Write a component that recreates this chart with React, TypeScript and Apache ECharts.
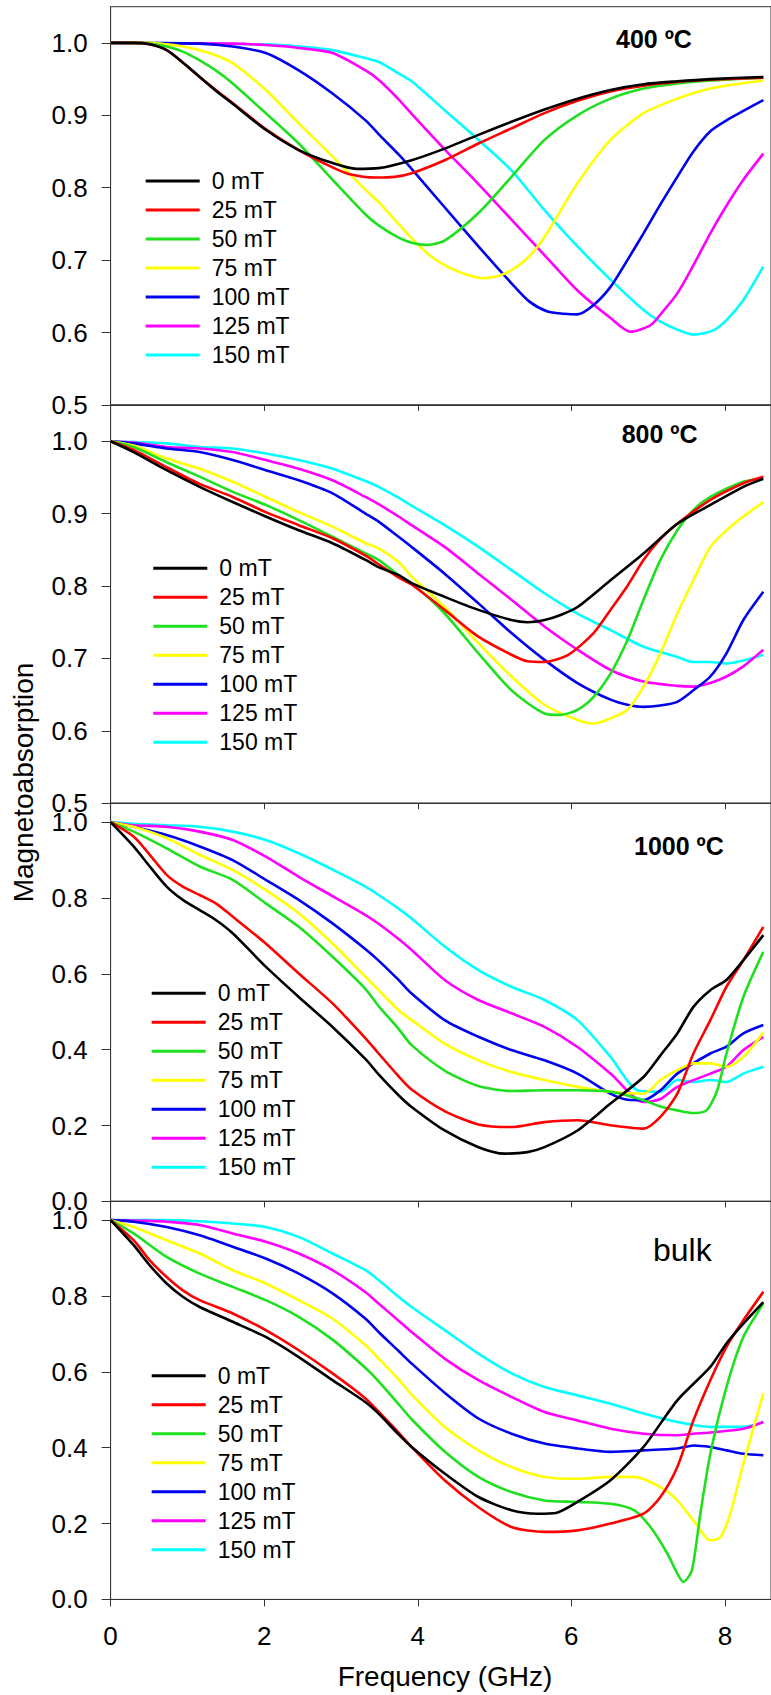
import React, { useEffect, useRef } from 'react';
import * as echarts from 'echarts';

// ---------- data ----------
const FIELDS = ['0 mT', '25 mT', '50 mT', '75 mT', '100 mT', '125 mT', '150 mT'];
const COLORS = ['#000000', '#ff0000', '#1fe01f', '#ffff00', '#0000f0', '#ff00ff', '#00ffff'];
const PANEL_TITLES = ['400 \u00BAC', '800 \u00BAC', '1000 \u00BAC', 'bulk'];
const X_TICKS = [0, 2, 4, 6, 8];
const Y_TICKS_HIGH = [0.5, 0.6, 0.7, 0.8, 0.9, 1.0];
const Y_TICKS_LOW = [0, 0.2, 0.4, 0.6, 0.8, 1.0];

// 400 ºC  [frequency GHz, magnetoabsorption]
const t400_0 = [[0,1],[0.3,1],[0.51,0.998],[0.73,0.99],[0.94,0.973],[1.16,0.953],[1.37,0.934],[1.59,0.916],[2.02,0.88],[2.45,0.852],[2.89,0.834],[3.2,0.826],[3.49,0.827],[3.92,0.838],[4.35,0.854],[4.79,0.873],[5.22,0.891],[5.65,0.908],[6.08,0.923],[6.51,0.935],[6.94,0.943],[7.38,0.947],[7.81,0.95],[8.5,0.953]];
const t400_25 = [[0,1],[0.3,1],[0.51,0.998],[0.73,0.99],[0.94,0.973],[1.16,0.953],[1.37,0.935],[1.59,0.917],[2.02,0.881],[2.45,0.852],[2.89,0.828],[3.1,0.819],[3.45,0.814],[3.7,0.815],[3.92,0.82],[4.35,0.838],[4.79,0.861],[5.22,0.882],[5.65,0.903],[6.08,0.92],[6.51,0.933],[6.94,0.941],[7.38,0.946],[7.81,0.949],[8.5,0.952]];
const t400_50 = [[0,1],[0.3,1],[0.51,0.999],[0.73,0.995],[0.94,0.988],[1.16,0.976],[1.37,0.962],[1.59,0.944],[2.02,0.903],[2.45,0.861],[2.89,0.811],[3.32,0.763],[3.49,0.748],[3.75,0.731],[3.92,0.724],[4.1,0.721],[4.35,0.727],[4.79,0.765],[5.22,0.815],[5.65,0.866],[6.08,0.9],[6.51,0.923],[6.94,0.937],[7.38,0.944],[7.81,0.948],[8.5,0.952]];
const t400_75 = [[0,1],[0.51,1],[0.73,0.998],[0.94,0.995],[1.16,0.99],[1.37,0.983],[1.59,0.972],[2.02,0.935],[2.45,0.889],[2.89,0.843],[3.32,0.797],[3.49,0.78],[3.75,0.75],[3.92,0.73],[4.15,0.707],[4.35,0.693],[4.6,0.681],[4.85,0.675],[5.05,0.678],[5.22,0.686],[5.45,0.705],[5.65,0.732],[6.08,0.806],[6.51,0.866],[6.94,0.903],[7.38,0.923],[7.81,0.937],[8.5,0.948]];
const t400_100 = [[0,1],[1.16,0.999],[1.59,0.995],[2.02,0.986],[2.45,0.962],[2.89,0.93],[3.32,0.893],[3.49,0.874],[3.75,0.846],[3.92,0.826],[4.35,0.773],[4.79,0.719],[5.22,0.668],[5.45,0.643],[5.69,0.629],[5.9,0.626],[6.08,0.625],[6.29,0.638],[6.51,0.663],[6.73,0.7],[6.94,0.737],[7.16,0.777],[7.38,0.815],[7.59,0.85],[7.81,0.878],[8.02,0.893],[8.24,0.906],[8.5,0.921]];
const t400_125 = [[0,1],[1.59,0.999],[2.02,0.997],[2.45,0.993],[2.89,0.986],[3.32,0.962],[3.49,0.949],[3.75,0.922],[3.92,0.902],[4.35,0.853],[4.79,0.805],[5.22,0.756],[5.65,0.707],[6.08,0.658],[6.51,0.62],[6.77,0.601],[7.03,0.61],[7.2,0.63],[7.38,0.654],[7.59,0.693],[7.81,0.737],[8.02,0.775],[8.24,0.811],[8.5,0.847]];
const t400_150 = [[0,1],[2.02,0.998],[2.45,0.995],[2.89,0.99],[3.32,0.979],[3.49,0.974],[3.75,0.958],[3.92,0.947],[4.35,0.907],[4.79,0.866],[5.22,0.824],[5.65,0.769],[6.08,0.719],[6.51,0.673],[6.94,0.631],[7.16,0.615],[7.38,0.604],[7.59,0.597],[7.85,0.603],[8.02,0.617],[8.24,0.645],[8.5,0.691]];

// 800 ºC
const t800_0 = [[0,1],[0.3,0.985],[0.73,0.96],[1.16,0.937],[1.59,0.916],[2.02,0.896],[2.45,0.877],[2.89,0.859],[3.32,0.836],[3.49,0.826],[3.75,0.815],[3.92,0.804],[4.35,0.785],[4.79,0.767],[5.22,0.753],[5.43,0.75],[5.65,0.753],[5.86,0.76],[6.08,0.771],[6.51,0.808],[6.94,0.845],[7.38,0.886],[7.81,0.912],[8.24,0.937],[8.5,0.948]];
const t800_25 = [[0,1],[0.3,0.988],[0.73,0.964],[1.16,0.941],[1.59,0.923],[2.02,0.902],[2.45,0.884],[2.89,0.866],[3.32,0.842],[3.49,0.83],[3.75,0.812],[3.92,0.802],[4.35,0.767],[4.79,0.73],[5.22,0.705],[5.43,0.696],[5.65,0.695],[5.96,0.705],[6.29,0.735],[6.51,0.767],[6.73,0.8],[6.94,0.836],[7.16,0.865],[7.38,0.886],[7.81,0.919],[8.24,0.942],[8.5,0.951]];
const t800_50 = [[0,1],[0.3,0.992],[0.73,0.971],[1.16,0.951],[1.59,0.93],[2.02,0.912],[2.45,0.891],[2.89,0.868],[3.32,0.845],[3.49,0.836],[3.75,0.815],[3.92,0.804],[4.35,0.762],[4.79,0.707],[5.22,0.656],[5.65,0.624],[5.86,0.622],[6.08,0.629],[6.29,0.647],[6.51,0.679],[6.73,0.725],[6.94,0.781],[7.16,0.836],[7.38,0.877],[7.59,0.905],[7.81,0.923],[8.24,0.944],[8.5,0.948]];
const t800_75 = [[0,1],[0.3,0.994],[0.73,0.976],[1.16,0.962],[1.59,0.944],[2.02,0.923],[2.45,0.902],[2.89,0.882],[3.32,0.859],[3.49,0.852],[3.75,0.833],[3.92,0.813],[4.35,0.771],[4.79,0.721],[5.22,0.675],[5.65,0.636],[6.08,0.615],[6.29,0.61],[6.51,0.617],[6.73,0.629],[6.94,0.661],[7.16,0.707],[7.38,0.762],[7.59,0.808],[7.81,0.854],[8.02,0.877],[8.24,0.896],[8.5,0.916]];
const t800_100 = [[0,1],[0.3,0.997],[0.73,0.99],[1.16,0.985],[1.59,0.974],[2.02,0.96],[2.45,0.946],[2.89,0.928],[3.32,0.9],[3.49,0.889],[3.75,0.868],[3.92,0.854],[4.35,0.817],[4.79,0.776],[5.22,0.735],[5.65,0.698],[6.08,0.666],[6.51,0.643],[6.73,0.636],[6.94,0.633],[7.16,0.635],[7.38,0.64],[7.59,0.656],[7.81,0.675],[8.02,0.707],[8.24,0.753],[8.5,0.792]];
const t800_125 = [[0,1],[0.3,0.998],[0.73,0.992],[1.16,0.99],[1.59,0.985],[2.02,0.974],[2.45,0.962],[2.89,0.946],[3.32,0.923],[3.49,0.913],[3.75,0.896],[3.92,0.884],[4.35,0.854],[4.79,0.817],[5.22,0.781],[5.65,0.744],[6.08,0.712],[6.51,0.684],[6.94,0.668],[7.38,0.662],[7.59,0.661],[7.81,0.666],[8.02,0.675],[8.24,0.689],[8.5,0.712]];
const t800_150 = [[0,1],[0.51,0.998],[0.73,0.997],[1.16,0.992],[1.59,0.99],[2.02,0.983],[2.45,0.974],[2.89,0.962],[3.32,0.945],[3.49,0.937],[3.75,0.922],[3.92,0.911],[4.35,0.884],[4.79,0.854],[5.22,0.822],[5.65,0.79],[6.08,0.762],[6.51,0.739],[6.94,0.716],[7.38,0.702],[7.59,0.695],[7.81,0.695],[8.02,0.693],[8.24,0.697],[8.5,0.705]];

// 1000 ºC
const t1000_0 = [[0,1],[0.3,0.936],[0.51,0.883],[0.73,0.83],[0.94,0.795],[1.16,0.768],[1.37,0.742],[1.59,0.707],[2.02,0.619],[2.45,0.539],[2.89,0.46],[3.32,0.375],[3.49,0.335],[3.75,0.28],[3.92,0.249],[4.35,0.187],[4.79,0.143],[5.13,0.126],[5.43,0.13],[5.65,0.143],[6.08,0.187],[6.51,0.258],[6.94,0.328],[7.16,0.385],[7.38,0.443],[7.59,0.513],[7.81,0.557],[8.02,0.584],[8.24,0.636],[8.5,0.702]];
const t1000_25 = [[0,1],[0.3,0.962],[0.51,0.914],[0.73,0.861],[0.94,0.83],[1.16,0.808],[1.37,0.786],[1.59,0.751],[2.02,0.68],[2.45,0.601],[2.89,0.522],[3.32,0.43],[3.49,0.39],[3.75,0.33],[3.92,0.295],[4.35,0.238],[4.79,0.203],[5.22,0.196],[5.65,0.209],[6.08,0.214],[6.51,0.201],[6.94,0.192],[7.16,0.223],[7.38,0.284],[7.59,0.39],[7.81,0.478],[8.02,0.566],[8.24,0.636],[8.5,0.724]];
const t1000_50 = [[0,1],[0.3,0.975],[0.73,0.931],[1.16,0.883],[1.59,0.848],[2.02,0.786],[2.45,0.724],[2.89,0.645],[3.32,0.56],[3.49,0.515],[3.75,0.455],[3.92,0.412],[4.35,0.345],[4.79,0.304],[5.22,0.291],[5.65,0.293],[6.08,0.293],[6.51,0.289],[6.94,0.267],[7.16,0.25],[7.38,0.24],[7.59,0.233],[7.76,0.24],[7.9,0.293],[8.02,0.39],[8.24,0.539],[8.5,0.658]];
const t1000_75 = [[0,1],[0.3,0.988],[0.73,0.958],[1.16,0.914],[1.59,0.874],[2.02,0.821],[2.45,0.76],[2.89,0.68],[3.32,0.592],[3.49,0.557],[3.75,0.504],[3.92,0.478],[4.35,0.416],[4.79,0.372],[5.22,0.341],[5.65,0.32],[6.08,0.302],[6.51,0.289],[6.94,0.284],[7.16,0.32],[7.38,0.346],[7.59,0.364],[7.81,0.364],[8.02,0.355],[8.24,0.381],[8.5,0.445]];
const t1000_100 = [[0,1],[0.3,0.988],[0.73,0.966],[1.16,0.936],[1.59,0.9],[2.02,0.848],[2.45,0.795],[2.89,0.733],[3.32,0.665],[3.49,0.635],[3.75,0.584],[3.92,0.548],[4.35,0.478],[4.79,0.434],[5.22,0.399],[5.65,0.372],[6.08,0.337],[6.51,0.284],[6.73,0.268],[6.94,0.267],[7.16,0.293],[7.38,0.337],[7.81,0.39],[8.02,0.408],[8.24,0.443],[8.5,0.465]];
const t1000_125 = [[0,1],[0.3,0.992],[0.73,0.988],[1.16,0.975],[1.59,0.953],[2.02,0.909],[2.45,0.856],[2.89,0.805],[3.32,0.755],[3.49,0.732],[3.75,0.692],[3.92,0.663],[4.35,0.584],[4.79,0.531],[5.22,0.496],[5.65,0.46],[6.08,0.407],[6.51,0.337],[6.94,0.262],[7.16,0.27],[7.38,0.302],[7.81,0.337],[8.02,0.355],[8.24,0.399],[8.5,0.434]];
const t1000_150 = [[0,1],[0.3,0.996],[0.73,0.992],[1.16,0.988],[1.59,0.975],[2.02,0.953],[2.45,0.918],[2.89,0.875],[3.32,0.83],[3.49,0.808],[3.75,0.772],[3.92,0.746],[4.35,0.672],[4.79,0.61],[5.22,0.566],[5.65,0.531],[6.08,0.478],[6.51,0.381],[6.86,0.293],[7.16,0.289],[7.38,0.32],[7.59,0.315],[7.81,0.32],[8.02,0.315],[8.24,0.337],[8.5,0.355]];

// bulk
const bulk_0 = [[0,1],[0.3,0.934],[0.51,0.881],[0.73,0.833],[0.94,0.798],[1.16,0.771],[1.59,0.732],[2.02,0.692],[2.45,0.639],[2.89,0.578],[3.32,0.52],[3.49,0.49],[3.75,0.435],[3.92,0.402],[4.35,0.332],[4.79,0.27],[5.22,0.235],[5.56,0.226],[5.8,0.228],[6.08,0.257],[6.51,0.314],[6.94,0.402],[7.38,0.525],[7.81,0.613],[8.02,0.675],[8.24,0.727],[8.5,0.784]];
const bulk_25 = [[0,1],[0.3,0.947],[0.51,0.894],[0.73,0.85],[0.94,0.815],[1.16,0.789],[1.59,0.754],[2.02,0.71],[2.45,0.657],[2.89,0.596],[3.32,0.53],[3.49,0.495],[3.75,0.44],[3.92,0.402],[4.35,0.314],[4.79,0.243],[5.22,0.191],[5.65,0.178],[6.08,0.182],[6.51,0.2],[6.94,0.226],[7.16,0.27],[7.38,0.349],[7.59,0.472],[7.81,0.578],[8.02,0.666],[8.24,0.736],[8.5,0.811]];
const bulk_50 = [[0,1],[0.3,0.965],[0.73,0.903],[1.16,0.859],[1.59,0.824],[2.02,0.789],[2.45,0.745],[2.89,0.685],[3.32,0.61],[3.49,0.575],[3.75,0.515],[3.92,0.475],[4.35,0.39],[4.79,0.323],[5.22,0.283],[5.65,0.261],[6.08,0.257],[6.51,0.252],[6.82,0.235],[7.03,0.191],[7.25,0.121],[7.38,0.068],[7.46,0.046],[7.57,0.077],[7.68,0.226],[7.81,0.384],[8.02,0.56],[8.24,0.692],[8.5,0.78]];
const bulk_75 = [[0,1],[0.3,0.982],[0.73,0.947],[1.16,0.912],[1.59,0.868],[2.02,0.833],[2.45,0.789],[2.89,0.74],[3.32,0.67],[3.49,0.635],[3.75,0.58],[3.92,0.54],[4.35,0.455],[4.79,0.393],[5.22,0.349],[5.65,0.323],[6.08,0.318],[6.51,0.323],[6.82,0.323],[7.16,0.296],[7.38,0.261],[7.59,0.208],[7.81,0.156],[7.94,0.164],[8.07,0.226],[8.24,0.358],[8.5,0.543]];
const bulk_100 = [[0,1],[0.3,0.996],[0.73,0.982],[1.16,0.96],[1.59,0.93],[2.02,0.899],[2.45,0.859],[2.89,0.807],[3.32,0.74],[3.49,0.705],[3.75,0.655],[3.92,0.622],[4.35,0.545],[4.79,0.477],[5.22,0.437],[5.65,0.411],[6.08,0.398],[6.51,0.389],[6.94,0.393],[7.38,0.398],[7.59,0.406],[7.81,0.402],[8.02,0.393],[8.24,0.384],[8.5,0.38]];
const bulk_125 = [[0,1],[0.51,0.998],[0.73,0.996],[1.16,0.987],[1.59,0.965],[2.02,0.943],[2.45,0.912],[2.89,0.868],[3.32,0.81],[3.49,0.78],[3.75,0.735],[3.92,0.705],[4.35,0.635],[4.79,0.578],[5.22,0.534],[5.65,0.494],[6.08,0.472],[6.51,0.45],[6.94,0.437],[7.38,0.433],[7.59,0.437],[7.81,0.44],[8.24,0.45],[8.5,0.468]];
const bulk_150 = [[0,1],[0.73,1],[1.16,0.997],[1.59,0.991],[2.02,0.982],[2.45,0.956],[2.89,0.912],[3.32,0.868],[3.49,0.842],[3.75,0.798],[3.92,0.771],[4.35,0.71],[4.79,0.648],[5.22,0.596],[5.65,0.56],[6.08,0.538],[6.51,0.516],[6.94,0.49],[7.38,0.468],[7.81,0.455],[8.24,0.455],[8.5,0.468]];

const PANEL_DATA = [
  [t400_0, t400_25, t400_50, t400_75, t400_100, t400_125, t400_150],
  [t800_0, t800_25, t800_50, t800_75, t800_100, t800_125, t800_150],
  [t1000_0, t1000_25, t1000_50, t1000_75, t1000_100, t1000_125, t1000_150],
  [bulk_0, bulk_25, bulk_50, bulk_75, bulk_100, bulk_125, bulk_150],
];

// ---------- layout ----------
const FONT = '"Liberation Sans", Arial, Helvetica, sans-serif';
const W = 771;
const H = 1695;
const GRID_LEFT = 110.6;
const GRID_WIDTH = 664;
const GRID_TOPS = [6.7, 405, 803.2, 1201.2];
const GRID_H = 398.2;
const Y_RANGES = [[0.5, 1.05], [0.5, 1.05], [0, 1.05], [0, 1.05]];
const LEGEND_POS = [
  { left: 145.7, first: 181 },
  { left: 153.3, first: 568.3 },
  { left: 151.7, first: 993.3 },
  { left: 151.7, first: 1375.7 },
];
const TITLE_POS = [
  { x: 616, y: 38.5, bold: true, size: 25 },
  { x: 621.7, y: 434, bold: true, size: 25 },
  { x: 634, y: 846, bold: true, size: 25 },
  { x: 653, y: 1250, bold: false, size: 32 },
];

function buildOption() {
  const grid: any[] = [];
  const xAxis: any[] = [];
  const yAxis: any[] = [];
  const legend: any[] = [];
  const series: any[] = [];
  const graphic: any[] = [];

  for (let p = 0; p < 4; p++) {
    grid.push({
      left: GRID_LEFT,
      top: GRID_TOPS[p],
      width: GRID_WIDTH,
      height: GRID_H,
      show: true,
      borderColor: '#333',
      borderWidth: 1,
      backgroundColor: 'transparent',
      containLabel: false,
    });
    const last = p === 3;
    xAxis.push({
      type: 'value',
      gridIndex: p,
      min: 0,
      max: 8.6,
      position: 'bottom',
      splitLine: { show: false },
      axisLine: { show: true, lineStyle: { color: '#333', width: 1 } },
      axisTick: { show: true, inside: false, length: last ? 7 : 6, lineStyle: { color: '#333' }, customValues: X_TICKS },
      axisLabel: {
        show: last,
        customValues: X_TICKS,
        fontSize: 26,
        fontFamily: FONT,
        color: '#000',
        margin: 24,
        formatter: (v: number) => String(v),
      },
    });
    const yt = p < 2 ? Y_TICKS_HIGH : Y_TICKS_LOW;
    yAxis.push({
      type: 'value',
      gridIndex: p,
      min: Y_RANGES[p][0],
      max: Y_RANGES[p][1],
      splitLine: { show: false },
      axisLine: { show: true, lineStyle: { color: '#333', width: 1 } },
      axisTick: { show: true, inside: false, length: 9, lineStyle: { color: '#333' }, customValues: yt },
      axisLabel: {
        customValues: yt,
        fontSize: 26,
        fontFamily: FONT,
        color: '#000',
        margin: 23,
        formatter: (v: number) => v.toFixed(1),
      },
    });
    legend.push({
      orient: 'vertical',
      left: LEGEND_POS[p].left,
      top: LEGEND_POS[p].first - 14.5,
      padding: 0,
      itemGap: 0,
      itemWidth: 54,
      itemHeight: 3,
      icon: 'rect',
      selectedMode: false,
      textStyle: { fontSize: 23, fontFamily: FONT, color: '#000', lineHeight: 29, padding: [0, 0, 0, 7] },
      data: FIELDS,
    });
    PANEL_DATA[p].forEach((d, i) => {
      series.push({
        type: 'line',
        name: FIELDS[i],
        xAxisIndex: p,
        yAxisIndex: p,
        data: d,
        color: COLORS[i],
        showSymbol: false,
        symbol: 'none',
        smooth: 0.25,
        lineStyle: { width: 2.6, color: COLORS[i] },
        z: 2 + (6 - i) * 0.01,
      });
    });
    const tp = TITLE_POS[p];
    graphic.push({
      type: 'text',
      x: tp.x,
      y: tp.y,
      style: {
        text: PANEL_TITLES[p],
        fill: '#000',
        font: `${tp.bold ? 'bold ' : ''}${tp.size}px ${FONT}`,
        textAlign: 'left',
        align: 'left',
        textVerticalAlign: 'middle',
        verticalAlign: 'middle',
      },
    });
  }

  graphic.push({
    type: 'text',
    x: 23,
    y: 782.5,
    rotation: Math.PI / 2,
    style: {
      text: 'Magnetoabsorption',
      fill: '#000',
      font: `28px ${FONT}`,
      textAlign: 'center',
      align: 'center',
      textVerticalAlign: 'middle',
      verticalAlign: 'middle',
    },
  });
  graphic.push({
    type: 'text',
    x: 445,
    y: 1676.5,
    style: {
      text: 'Frequency (GHz)',
      fill: '#000',
      font: `28px ${FONT}`,
      textAlign: 'center',
      align: 'center',
      textVerticalAlign: 'middle',
      verticalAlign: 'middle',
    },
  });

  return {
    animation: false,
    backgroundColor: '#ffffff',
    grid,
    xAxis,
    yAxis,
    legend,
    series,
    graphic,
  };
}

export default function App() {
  const ref = useRef<HTMLDivElement | null>(null);
  useEffect(() => {
    if (!ref.current) return;
    const chart = echarts.init(ref.current, undefined, { renderer: 'svg' });
    chart.setOption(buildOption() as any);
    return () => chart.dispose();
  }, []);
  return (
    <div
      ref={ref}
      style={{ position: 'absolute', left: 0, top: 0, width: W, height: H, background: '#fff' }}
    />
  );
}
